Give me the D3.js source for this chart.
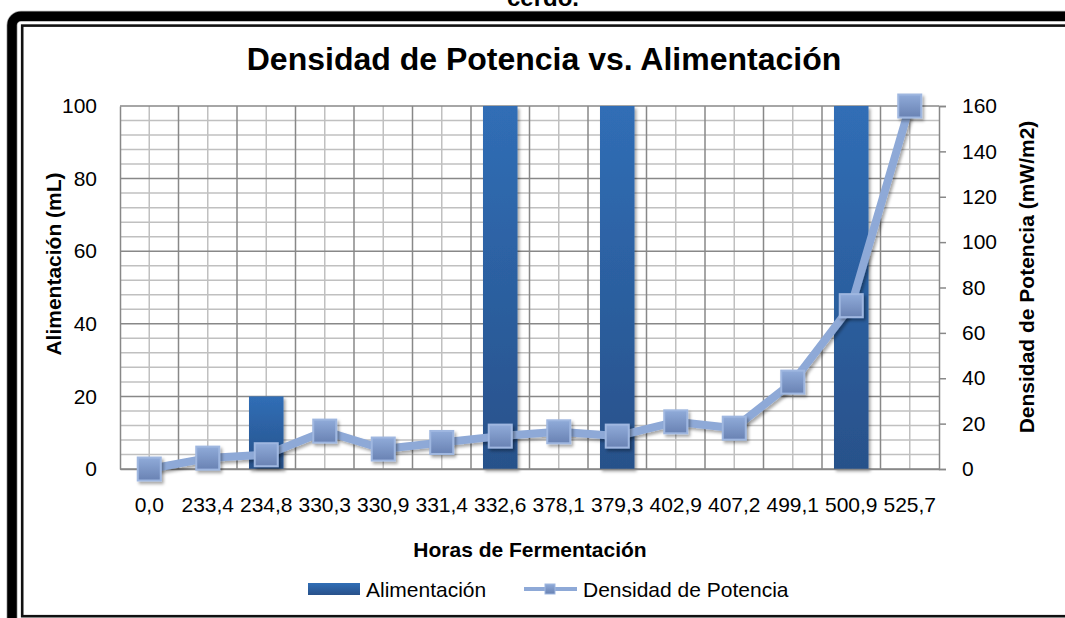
<!DOCTYPE html>
<html>
<head>
<meta charset="utf-8">
<script src="https://cdn.jsdelivr.net/npm/d3@7"></script>
<style>
  body { margin: 0; background: #fff; }
  svg text { font-family: 'Liberation Sans', Arial, sans-serif; fill: #000; }
</style>
</head>
<body>
<div id="chart"></div>
<script>
const categories = ['0,0', '233,4', '234,8', '330,3', '330,9', '331,4', '332,6',
  '378,1', '379,3', '402,9', '407,2', '499,1', '500,9', '525,7']
const alimentacion = [0, 0, 20, 0, 0, 0, 100, 0, 100, 0, 0, 0, 100, 0]
const densidad = [0, 4.8, 6.3, 16.7, 8.8, 11.7, 14.5, 16.4, 14.5, 20.8, 18, 38.3, 72, 160]
const leftTicks = [0, 20, 40, 60, 80, 100]
const rightTicks = [0, 20, 40, 60, 80, 100, 120, 140, 160]

const W = 1065
const H = 618
const plot = { left: 120, right: 939, top: 106, bottom: 469 }
const fs = '21px'

const svg = d3.select('#chart')
  .append('svg')
  .attr('width', W)
  .attr('height', H)

const defs = svg.append('defs')

const barGrad = defs.append('linearGradient')
  .attr('id', 'barGrad')
  .attr('x1', 0).attr('y1', 0).attr('x2', 0).attr('y2', 1)
barGrad.append('stop').attr('offset', '0%').attr('stop-color', '#306eb6')
barGrad.append('stop').attr('offset', '100%').attr('stop-color', '#28518a')

const markGrad = defs.append('linearGradient')
  .attr('id', 'markGrad')
  .attr('x1', 0).attr('y1', 0).attr('x2', 0).attr('y2', 1)
markGrad.append('stop').attr('offset', '0%').attr('stop-color', '#90abd9')
markGrad.append('stop').attr('offset', '100%').attr('stop-color', '#6982b3')

const shadow = defs.append('filter')
  .attr('id', 'shadow')
  .attr('x', '-30%').attr('y', '-30%').attr('width', '160%').attr('height', '160%')
shadow.append('feDropShadow')
  .attr('dx', 2).attr('dy', 2.5).attr('stdDeviation', 1.6)
  .attr('flood-color', '#000').attr('flood-opacity', 0.35)

// frame around the chart
svg.append('rect')
  .attr('x', 12).attr('y', 16.3)
  .attr('width', 1200).attr('height', 800)
  .attr('rx', 9)
  .attr('fill', 'none')
  .attr('stroke', '#aaa')
  .attr('stroke-width', 11)
svg.append('rect')
  .attr('x', 12).attr('y', 16.3)
  .attr('width', 1200).attr('height', 800)
  .attr('rx', 9)
  .attr('fill', 'none')
  .attr('stroke', '#000')
  .attr('stroke-width', 9.5)
svg.append('rect')
  .attr('x', 22.2).attr('y', 25.6)
  .attr('width', 1200).attr('height', 590.6)
  .attr('fill', 'none')
  .attr('stroke', '#111')
  .attr('stroke-width', 2.6)

// caption text at the top, cut by the page edge as in the original
svg.append('text')
  .attr('x', 543).attr('y', 6)
  .attr('text-anchor', 'middle')
  .style('font-size', '24px')
  .style('font-weight', 'bold')
  .text('cerdo.')

svg.append('text')
  .attr('x', 544).attr('y', 70)
  .attr('text-anchor', 'middle')
  .style('font-size', '32px')
  .style('font-weight', 'bold')
  .text('Densidad de Potencia vs. Alimentación')

const x = d3.scaleBand()
  .domain(categories)
  .range([plot.left, plot.right])

const yLeft = d3.scaleLinear()
  .domain([0, 100])
  .range([plot.bottom, plot.top])

const yRight = d3.scaleLinear()
  .domain([0, 160])
  .range([plot.bottom, plot.top])

// grid
const grid = svg.append('g')
const minorVals = d3.range(0, 101, 4).filter(v => v % 20 !== 0)
grid.selectAll('.hminor')
  .data(minorVals)
  .enter()
  .append('line')
  .attr('x1', plot.left).attr('x2', plot.right)
  .attr('y1', d => yLeft(d)).attr('y2', d => yLeft(d))
  .attr('stroke', '#c0c0c0')
  .attr('stroke-width', 1.5)

grid.selectAll('.vminor')
  .data(categories)
  .enter()
  .append('line')
  .attr('x1', d => x(d) + x.bandwidth() / 2)
  .attr('x2', d => x(d) + x.bandwidth() / 2)
  .attr('y1', plot.top).attr('y2', plot.bottom)
  .attr('stroke', '#c0c0c0')
  .attr('stroke-width', 1.5)

grid.selectAll('.hmajor')
  .data(leftTicks)
  .enter()
  .append('line')
  .attr('x1', plot.left).attr('x2', plot.right)
  .attr('y1', d => yLeft(d)).attr('y2', d => yLeft(d))
  .attr('stroke', '#888')
  .attr('stroke-width', 1.5)

grid.selectAll('.vmajor')
  .data(categories.slice(1))
  .enter()
  .append('line')
  .attr('x1', d => x(d)).attr('x2', d => x(d))
  .attr('y1', plot.top).attr('y2', plot.bottom)
  .attr('stroke', '#888')
  .attr('stroke-width', 1.5)

// bars
const barW = x.bandwidth() * 0.59
svg.append('g')
  .selectAll('rect')
  .data(alimentacion.map((v, i) => ({ cat: categories[i], v: v })).filter(d => d.v > 0))
  .enter()
  .append('rect')
  .attr('x', d => x(d.cat) + (x.bandwidth() - barW) / 2)
  .attr('y', d => yLeft(d.v))
  .attr('width', barW)
  .attr('height', d => plot.bottom - yLeft(d.v))
  .attr('fill', 'url(#barGrad)')
  .attr('filter', 'url(#shadow)')

// axes
const leftAxis = d3.axisLeft(yLeft)
  .tickValues(leftTicks)
  .tickSize(0)
  .tickPadding(23)
const gl = svg.append('g')
  .attr('transform', 'translate(' + plot.left + ',0)')
  .call(leftAxis)
gl.select('.domain').attr('stroke', '#888').attr('stroke-width', 1.5)

const rightAxis = d3.axisRight(yRight)
  .tickValues(rightTicks)
  .tickSize(7)
  .tickPadding(16)
const gr = svg.append('g')
  .attr('transform', 'translate(' + plot.right + ',0)')
  .call(rightAxis)
gr.select('.domain').attr('stroke', '#888').attr('stroke-width', 1.5)
gr.selectAll('.tick line').attr('stroke', '#888').attr('stroke-width', 1.5)

const bottomAxis = d3.axisBottom(x)
  .tickSize(0)
  .tickPadding(28)
const gb = svg.append('g')
  .attr('transform', 'translate(0,' + plot.bottom + ')')
  .call(bottomAxis)
gb.select('.domain').attr('stroke', '#888').attr('stroke-width', 1.5)

svg.selectAll('.tick text')
  .style('font-size', fs)
  .style('font-family', "'Liberation Sans', Arial, sans-serif")
  .attr('fill', '#000')

// line series
const line = d3.line()
  .x((d, i) => x(categories[i]) + x.bandwidth() / 2)
  .y(d => yRight(d))

svg.append('path')
  .datum(densidad)
  .attr('d', line)
  .attr('fill', 'none')
  .attr('stroke', '#8ea9d7')
  .attr('stroke-width', 8)
  .attr('stroke-linejoin', 'round')
  .attr('filter', 'url(#shadow)')

const mk = 23
svg.append('g')
  .selectAll('rect')
  .data(densidad)
  .enter()
  .append('rect')
  .attr('x', (d, i) => x(categories[i]) + x.bandwidth() / 2 - mk / 2)
  .attr('y', d => yRight(d) - mk / 2)
  .attr('width', mk)
  .attr('height', mk)
  .attr('fill', 'url(#markGrad)')
  .attr('stroke', '#9fb7e0')
  .attr('stroke-width', 2)
  .attr('filter', 'url(#shadow)')

// axis titles
svg.append('text')
  .attr('transform', 'translate(61,264) rotate(-90)')
  .attr('text-anchor', 'middle')
  .style('font-size', fs)
  .style('font-weight', 'bold')
  .text('Alimentación (mL)')

svg.append('text')
  .attr('transform', 'translate(1034,277) rotate(-90)')
  .attr('text-anchor', 'middle')
  .style('font-size', fs)
  .style('font-weight', 'bold')
  .text('Densidad de Potencia (mW/m2)')

svg.append('text')
  .attr('x', 530).attr('y', 557)
  .attr('text-anchor', 'middle')
  .style('font-size', fs)
  .style('font-weight', 'bold')
  .text('Horas de Fermentación')

// legend
const legend = svg.append('g')
legend.append('rect')
  .attr('x', 308).attr('y', 583)
  .attr('width', 52).attr('height', 12)
  .attr('fill', 'url(#barGrad)')
legend.append('text')
  .attr('x', 366).attr('y', 597)
  .style('font-size', fs)
  .text('Alimentación')

legend.append('line')
  .attr('x1', 524).attr('x2', 577)
  .attr('y1', 589).attr('y2', 589)
  .attr('stroke', '#8ea9d7')
  .attr('stroke-width', 4)
legend.append('rect')
  .attr('x', 545).attr('y', 584)
  .attr('width', 10).attr('height', 10)
  .attr('fill', 'url(#markGrad)')
  .attr('stroke', '#9fb7e0')
  .attr('stroke-width', 1)
legend.append('text')
  .attr('x', 583).attr('y', 597)
  .style('font-size', fs)
  .text('Densidad de Potencia')
</script>
</body>
</html>
